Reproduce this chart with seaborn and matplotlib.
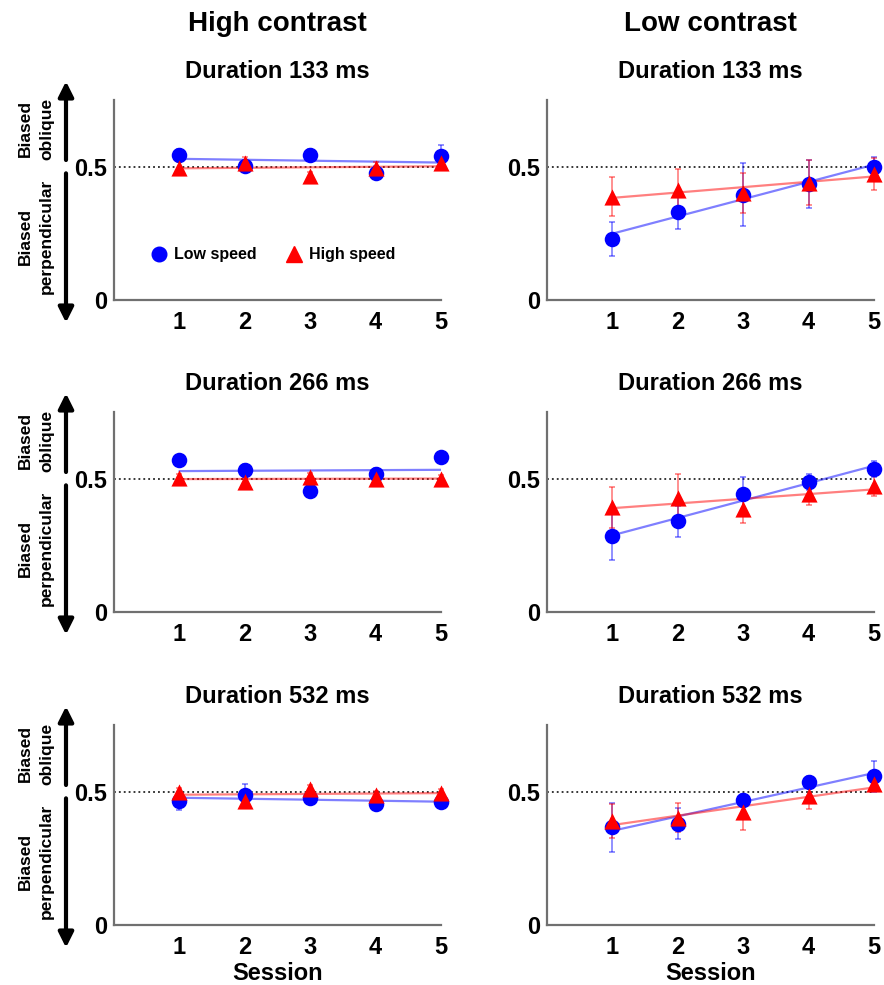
import numpy as np
import pandas as pd
import seaborn as sns
import matplotlib
matplotlib.use("Agg")
import matplotlib.pyplot as plt
from matplotlib.lines import Line2D
from matplotlib.transforms import blended_transform_factory

sns.set_style("white")
plt.rcParams['font.family'] = ['Liberation Sans', 'DejaVu Sans']
plt.rcParams['text.color'] = 'black'
plt.rcParams['axes.labelcolor'] = 'black'
plt.rcParams['xtick.color'] = 'black'
plt.rcParams['ytick.color'] = 'black'

sessions = [1, 2, 3, 4, 5]
column_titles = ["High contrast", "Low contrast"]
durations = ["Duration 133 ms", "Duration 266 ms", "Duration 532 ms"]

# High contrast
hc133_low = [0.545, 0.504, 0.545, 0.477, 0.541]
hc133_low_err = [0.02, 0.02, 0.02, 0.025, 0.04]
hc133_high = [0.496, 0.515, 0.466, 0.496, 0.515]
hc133_high_err = [0.02, 0.02, 0.015, 0.02, 0.02]

hc266_low = [0.569, 0.531, 0.454, 0.519, 0.581]
hc266_low_err = [0.015, 0.025, 0.02, 0.02, 0.015]
hc266_high = [0.504, 0.487, 0.506, 0.500, 0.500]
hc266_high_err = [0.015, 0.015, 0.015, 0.015, 0.015]

hc532_low = [0.465, 0.488, 0.478, 0.455, 0.463]
hc532_low_err = [0.035, 0.04, 0.02, 0.02, 0.02]
hc532_high = [0.500, 0.465, 0.509, 0.488, 0.496]
hc532_high_err = [0.015, 0.015, 0.015, 0.015, 0.015]

# Low contrast
lc133_low = [0.229, 0.331, 0.395, 0.436, 0.500]
lc133_low_err = [0.064, 0.063, 0.118, 0.090, 0.035]
lc133_high = [0.387, 0.413, 0.402, 0.440, 0.474]
lc133_high_err = [0.073, 0.080, 0.075, 0.085, 0.060]

lc266_low = [0.284, 0.341, 0.441, 0.487, 0.537]
lc266_low_err = [0.088, 0.058, 0.065, 0.030, 0.030]
lc266_high = [0.393, 0.426, 0.388, 0.444, 0.472]
lc266_high_err = [0.077, 0.090, 0.055, 0.042, 0.038]

lc532_low = [0.366, 0.379, 0.468, 0.537, 0.558]
lc532_low_err = [0.093, 0.058, 0.025, 0.020, 0.058]
lc532_high = [0.391, 0.403, 0.422, 0.484, 0.527]
lc532_high_err = [0.064, 0.056, 0.064, 0.048, 0.025]

panels = [
    [(hc133_low, hc133_low_err, hc133_high, hc133_high_err),
     (lc133_low, lc133_low_err, lc133_high, lc133_high_err)],
    [(hc266_low, hc266_low_err, hc266_high, hc266_high_err),
     (lc266_low, lc266_low_err, lc266_high, lc266_high_err)],
    [(hc532_low, hc532_low_err, hc532_high, hc532_high_err),
     (lc532_low, lc532_low_err, lc532_high, lc532_high_err)],
]

BLUE = "#0000ff"
RED = "#ff0000"

fig = plt.figure(figsize=(8.84, 9.85), dpi=100)
W, H = 884, 985
col_left = [114, 547]
ax_w = 327
row_bottom = [300, 612, 925]
ax_h = 200

def draw_series(ax, y, err, color, marker, ms):
    df = pd.DataFrame({"Session": sessions, "y": y})
    sns.regplot(data=df, x="Session", y="y", ax=ax, scatter=False, ci=None,
                color=color, line_kws=dict(lw=1.6, alpha=0.5), truncate=True)
    ax.errorbar(sessions, y, yerr=err, fmt="none", ecolor=color, alpha=0.55,
                elinewidth=1.1, capsize=2.5, capthick=1.1, clip_on=False)
    sns.scatterplot(data=df, x="Session", y="y", ax=ax, color=color, marker=marker,
                    s=ms, edgecolor=color, linewidth=0, clip_on=False, zorder=4)

for r in range(3):
    for c in range(2):
        left = col_left[c] / W
        bottom = 1 - row_bottom[r] / H
        ax = fig.add_axes([left, bottom, ax_w / W, ax_h / H])
        low, low_err, high, high_err = panels[r][c]
        ax.axhline(0.5, color="black", ls=(0, (1.2, 2.0)), lw=1.1, zorder=1)
        draw_series(ax, low, low_err, BLUE, "o", 125)
        draw_series(ax, high, high_err, RED, "^", 135)
        ax.set_xlim(0, 5)
        ax.set_ylim(0, 0.75)
        ax.set_xticks(sessions)
        ax.set_yticks([0, 0.5])
        ax.set_yticklabels(["0", "0.5"])
        ax.set_xticklabels([str(s) for s in sessions])
        for lab in ax.get_xticklabels() + ax.get_yticklabels():
            lab.set_fontsize(17)
            lab.set_fontweight("bold")
        ax.tick_params(axis="x", direction="in", length=4, width=1, color="#707070", pad=8)
        ax.tick_params(axis="y", direction="in", length=0, pad=5)
        for side in ["top", "right"]:
            ax.spines[side].set_visible(False)
        for side in ["left", "bottom"]:
            ax.spines[side].set_color("#707070")
            ax.spines[side].set_linewidth(1.6)
        ax.set_ylabel("")
        ax.set_xlabel("Session" if r == 2 else "", fontsize=17, fontweight="bold", labelpad=2)
        ax.set_title(durations[r], fontsize=17, fontweight="bold", pad=16)
        if r == 0:
            ax.text(0.5, 1.0 + 76 / ax_h, column_titles[c], transform=ax.transAxes,
                    ha="center", va="center", fontsize=20, fontweight="bold")
        if c == 0:
            tr = blended_transform_factory(ax.transAxes, ax.transData)
            xa = (66 - 114) / ax_w
            ax.annotate("", xy=(xa, 0.82), xytext=(xa, 0.525), xycoords=tr, textcoords=tr,
                        arrowprops=dict(arrowstyle="-|>,head_length=0.9,head_width=0.45",
                                        lw=3, color="black", shrinkA=0, shrinkB=0),
                        annotation_clip=False)
            ax.annotate("", xy=(xa, -0.085), xytext=(xa, 0.475), xycoords=tr, textcoords=tr,
                        arrowprops=dict(arrowstyle="-|>,head_length=0.9,head_width=0.45",
                                        lw=3, color="black", shrinkA=0, shrinkB=0),
                        annotation_clip=False)
            xt = (36 - 114) / ax_w
            ax.text(xt, 0.643, "Biased\noblique", transform=tr, rotation=90,
                    ha="center", va="center", fontsize=12.5, fontweight="bold",
                    linespacing=1.5, multialignment="center")
            ax.text(xt, 0.237, "Biased\nperpendicular", transform=tr, rotation=90,
                    ha="center", va="center", fontsize=12.5, fontweight="bold",
                    linespacing=1.5, multialignment="center")
        if r == 0 and c == 0:
            handles = [Line2D([], [], color=BLUE, marker="o", ls="none", markersize=10.5),
                       Line2D([], [], color=RED, marker="^", ls="none", markersize=11)]
            ax.legend(handles, ["Low speed", "High speed"], loc="center left",
                      bbox_to_anchor=(0.07, 0.225), ncol=2, frameon=False,
                      prop=dict(size=11.5, weight="bold"), handletextpad=0.45,
                      columnspacing=1.8, handlelength=1.0)

fig.savefig("out.png", dpi=100)
